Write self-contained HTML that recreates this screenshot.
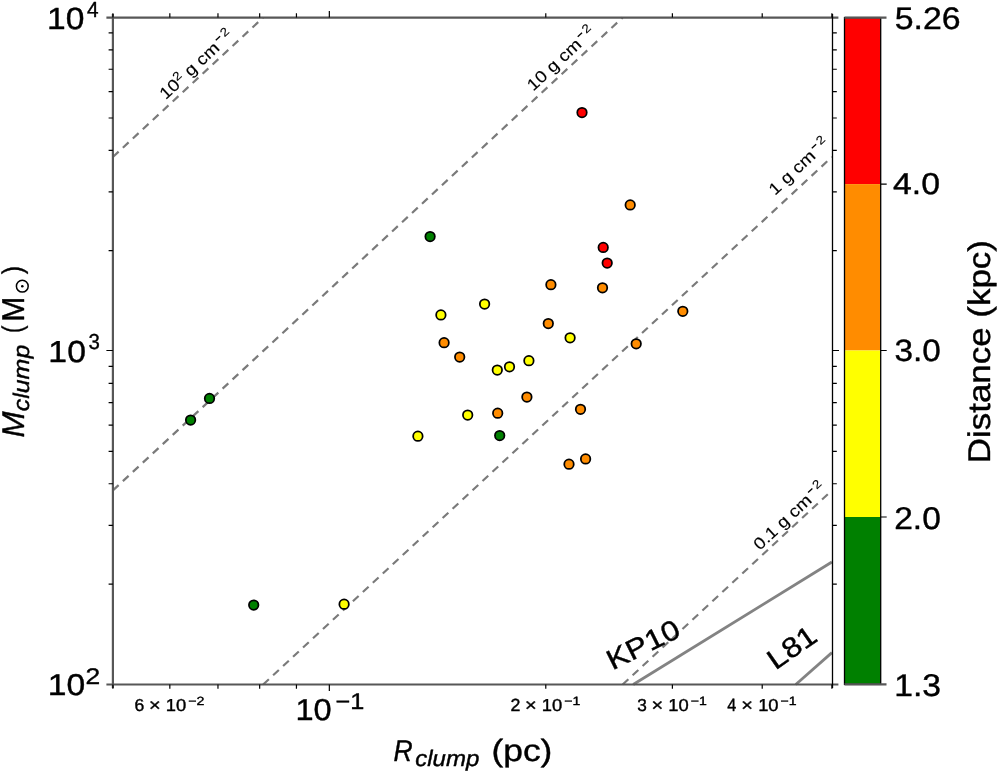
<!DOCTYPE html>
<html><head><meta charset="utf-8"><style>
html,body{margin:0;padding:0;background:#fff;overflow:hidden;}
svg{display:block;will-change:transform;}
text{font-family:"Liberation Sans",sans-serif;text-rendering:geometricPrecision;stroke:#000;stroke-width:0.4px;stroke-linejoin:round;}
.s text{stroke-width:0.12px;}
</style></head><body>
<svg width="997" height="773" viewBox="0 0 997 773">
<rect width="997" height="773" fill="#fff"/>
<g fill="none" stroke-linecap="butt">
<line x1="112.90" y1="156.96" x2="263.15" y2="17.60" stroke="#7a7a7a" stroke-width="2.2" stroke-dasharray="7.8 5.8"/>
<line x1="112.90" y1="490.41" x2="622.65" y2="17.60" stroke="#7a7a7a" stroke-width="2.2" stroke-dasharray="7.8 5.8"/>
<line x1="263.15" y1="684.50" x2="831.90" y2="156.96" stroke="#7a7a7a" stroke-width="2.2" stroke-dasharray="7.8 5.8"/>
<line x1="622.65" y1="684.50" x2="831.90" y2="490.41" stroke="#7a7a7a" stroke-width="2.2" stroke-dasharray="7.8 5.8"/>
<line x1="633.21" y1="684.50" x2="831.90" y2="561.95" stroke="#838383" stroke-width="2.8"/>
<line x1="795.76" y1="684.50" x2="831.90" y2="652.66" stroke="#838383" stroke-width="2.8"/>
</g>
<g stroke="#000" stroke-width="1.75">
<circle cx="582" cy="112.6" r="4.75" fill="#ff0000"/>
<circle cx="630.2" cy="204.9" r="4.75" fill="#ff8c00"/>
<circle cx="430.1" cy="236.5" r="4.75" fill="#008000"/>
<circle cx="603.2" cy="247.4" r="4.75" fill="#ff0000"/>
<circle cx="607.2" cy="263.1" r="4.75" fill="#ff0000"/>
<circle cx="550.9" cy="284.7" r="4.75" fill="#ff8c00"/>
<circle cx="602.5" cy="287.8" r="4.75" fill="#ff8c00"/>
<circle cx="484.6" cy="304" r="4.75" fill="#ffff00"/>
<circle cx="682.8" cy="311.3" r="4.75" fill="#ff8c00"/>
<circle cx="440.9" cy="314.9" r="4.75" fill="#ffff00"/>
<circle cx="548.3" cy="323.6" r="4.75" fill="#ff8c00"/>
<circle cx="570.1" cy="337.8" r="4.75" fill="#ffff00"/>
<circle cx="444.1" cy="342.7" r="4.75" fill="#ff8c00"/>
<circle cx="636.2" cy="343.8" r="4.75" fill="#ff8c00"/>
<circle cx="459.7" cy="357.1" r="4.75" fill="#ff8c00"/>
<circle cx="528.9" cy="360.7" r="4.75" fill="#ffff00"/>
<circle cx="497.3" cy="370" r="4.75" fill="#ffff00"/>
<circle cx="509.5" cy="366.8" r="4.75" fill="#ffff00"/>
<circle cx="526.9" cy="397.1" r="4.75" fill="#ff8c00"/>
<circle cx="209.5" cy="398.4" r="4.75" fill="#008000"/>
<circle cx="580.5" cy="409.3" r="4.75" fill="#ff8c00"/>
<circle cx="497.7" cy="413.2" r="4.75" fill="#ff8c00"/>
<circle cx="467.7" cy="415" r="4.75" fill="#ffff00"/>
<circle cx="190.6" cy="420.1" r="4.75" fill="#008000"/>
<circle cx="499.7" cy="435.5" r="4.75" fill="#008000"/>
<circle cx="417.9" cy="436.2" r="4.75" fill="#ffff00"/>
<circle cx="585.6" cy="458.9" r="4.75" fill="#ff8c00"/>
<circle cx="569" cy="464.2" r="4.75" fill="#ff8c00"/>
<circle cx="253.7" cy="605" r="4.75" fill="#008000"/>
<circle cx="344.1" cy="604.2" r="4.75" fill="#ffff00"/>
</g>
<g stroke="#575757" stroke-width="2.2">
<line x1="106.40" y1="17.6" x2="838.40" y2="17.6"/>
<line x1="106.40" y1="684.5" x2="838.40" y2="684.5"/>
<line x1="112.9" y1="14.10" x2="112.9" y2="688.00"/>
</g>
<line x1="832.50" y1="14.10" x2="832.50" y2="688.00" stroke="#000" stroke-width="1.3"/>
<path d="M112.90 684.50v4.3M112.90 17.60v-4.3M169.83 684.50v4.3M169.83 17.60v-4.3M217.97 684.50v4.3M217.97 17.60v-4.3M259.66 684.50v4.3M259.66 17.60v-4.3M296.44 684.50v4.3M296.44 17.60v-4.3M329.34 684.50v6.5M329.34 17.60v-6.5M545.78 684.50v4.3M545.78 17.60v-4.3M672.39 684.50v4.3M672.39 17.60v-4.3M762.22 684.50v4.3M762.22 17.60v-4.3M831.90 684.50v4.3M831.90 17.60v-4.3M112.90 584.12h-4.3M832.50 584.12h4.3M112.90 525.40h-4.3M832.50 525.40h4.3M112.90 483.74h-4.3M832.50 483.74h4.3M112.90 451.43h-4.3M832.50 451.43h4.3M112.90 425.03h-4.3M832.50 425.03h4.3M112.90 402.70h-4.3M832.50 402.70h4.3M112.90 383.36h-4.3M832.50 383.36h4.3M112.90 366.31h-4.3M832.50 366.31h4.3M112.90 350.50h-4.3M832.50 350.50h4.3M112.90 350.50h-6.5M832.50 350.50h6.5M112.90 250.67h-4.3M832.50 250.67h4.3M112.90 191.95h-4.3M832.50 191.95h4.3M112.90 150.29h-4.3M832.50 150.29h4.3M112.90 117.98h-4.3M832.50 117.98h4.3M112.90 91.58h-4.3M832.50 91.58h4.3M112.90 69.25h-4.3M832.50 69.25h4.3M112.90 49.91h-4.3M832.50 49.91h4.3M112.90 32.86h-4.3M832.50 32.86h4.3" stroke="#000" stroke-width="1.2" fill="none"/>
<rect x="844.5" y="17.6" width="36.20" height="166.50" fill="#ff0000"/>
<rect x="844.5" y="184.1" width="36.20" height="166.40" fill="#ff8c00"/>
<rect x="844.5" y="350.5" width="36.20" height="166.50" fill="#ffff00"/>
<rect x="844.5" y="517.0" width="36.20" height="167.40" fill="#008000"/>
<rect x="844.5" y="17.6" width="36.20" height="666.80" fill="none" stroke="#000" stroke-width="1.3"/>
<g stroke="#575757" stroke-width="2.2"><line x1="844.5" y1="17.6" x2="886.5" y2="17.6"/><line x1="844.5" y1="684.4" x2="886.5" y2="684.4"/></g>
<path d="M880.7 184.1h6M880.7 350.5h6M880.7 517h6" stroke="#000" stroke-width="1.2"/>
<g transform="translate(165.70,100.30) rotate(-42.90)" fill="#000" class="s"><text transform="translate(0.00,0) scale(1.140,1)" font-size="16.60">10</text><text transform="translate(21.05,-6.1) scale(1.140,1)" font-size="12.00">2</text><text transform="translate(28.65,0) scale(1.140,1)" font-size="16.60"> g cm</text><rect x="77.62" y="-10.60" width="5.9" height="1.3"/><text transform="translate(85.77,-6.1) scale(1.140,1)" font-size="12.00">2</text></g>
<g transform="translate(533.20,91.70) rotate(-42.90)" fill="#000" class="s"><text transform="translate(0.00,0) scale(1.140,1)" font-size="16.60">10 g cm</text><rect x="70.01" y="-10.60" width="5.9" height="1.3"/><text transform="translate(78.16,-6.1) scale(1.140,1)" font-size="12.00">2</text></g>
<g transform="translate(775.00,196.00) rotate(-42.90)" fill="#000" class="s"><text transform="translate(0.00,0) scale(1.140,1)" font-size="16.60">1 g cm</text><rect x="59.49" y="-10.60" width="5.9" height="1.3"/><text transform="translate(67.64,-6.1) scale(1.140,1)" font-size="12.00">2</text></g>
<g transform="translate(759.70,551.00) rotate(-42.90)" fill="#000" class="s"><text transform="translate(0.00,0) scale(1.140,1)" font-size="16.60">0.1 g cm</text><rect x="75.27" y="-10.60" width="5.9" height="1.3"/><text transform="translate(83.42,-6.1) scale(1.140,1)" font-size="12.00">2</text></g>
<text transform="translate(612.5,670.5) rotate(-26.5) scale(1.13,1)" font-size="28.2">KP10</text>
<text transform="translate(775.5,670.5) rotate(-35) scale(1.13,1)" font-size="28.2">L81</text>
<text transform="translate(47.08,28.99) scale(1.0933,1)" font-size="30.70" fill="#000">10</text>
<text transform="translate(86.88,16.60) scale(0.9505,1)" font-size="21.88" fill="#000">4</text>
<text transform="translate(48.37,361.60) scale(1.1100,1)" font-size="30.42" fill="#000">10</text>
<text transform="translate(88.58,349.48) scale(0.9417,1)" font-size="21.69" fill="#000">3</text>
<text transform="translate(47.77,695.20) scale(1.1223,1)" font-size="30.00" fill="#000">10</text>
<text transform="translate(85.48,683.70) scale(1.1685,1)" font-size="22.57" fill="#000">2</text>
<text transform="translate(295.46,719.70) scale(1.0753,1)" font-size="30.28" fill="#000">10</text>
<text transform="translate(335.54,708.50) scale(1.1174,1)" font-size="22.61" fill="#000">−1</text>
<text transform="translate(134.45,710.83) scale(1.0164,1)" font-size="17.32" fill="#000">6</text>
<text transform="translate(148.93,711.35) scale(1.1266,1)" font-size="17.75" fill="#000">×</text>
<text transform="translate(165.75,710.83) scale(1.0616,1)" font-size="17.32" fill="#000">10</text>
<text transform="translate(188.22,704.60) scale(1.1921,1)" font-size="11.86" fill="#000">−2</text>
<text transform="translate(510.39,711.00) scale(1.0131,1)" font-size="17.57" fill="#000">2</text>
<text transform="translate(524.88,711.35) scale(1.1266,1)" font-size="17.75" fill="#000">×</text>
<text transform="translate(541.70,710.83) scale(1.0616,1)" font-size="17.32" fill="#000">10</text>
<text transform="translate(564.18,704.60) scale(1.1694,1)" font-size="12.03" fill="#000">−1</text>
<text transform="translate(637.20,710.83) scale(0.9948,1)" font-size="17.32" fill="#000">3</text>
<text transform="translate(651.49,711.35) scale(1.1266,1)" font-size="17.75" fill="#000">×</text>
<text transform="translate(668.31,710.83) scale(1.0616,1)" font-size="17.32" fill="#000">10</text>
<text transform="translate(690.79,704.60) scale(1.1694,1)" font-size="12.03" fill="#000">−1</text>
<text transform="translate(727.32,711.00) scale(0.9088,1)" font-size="17.83" fill="#000">4</text>
<text transform="translate(741.32,711.35) scale(1.1266,1)" font-size="17.75" fill="#000">×</text>
<text transform="translate(758.14,710.83) scale(1.0616,1)" font-size="17.32" fill="#000">10</text>
<text transform="translate(780.62,704.60) scale(1.1694,1)" font-size="12.03" fill="#000">−1</text>
<text transform="translate(894.75,28.99) scale(1.0882,1)" font-size="31.13" fill="#000">5.26</text>
<text transform="translate(893.05,194.30) scale(1.1166,1)" font-size="30.28" fill="#000">4.0</text>
<text transform="translate(894.57,361.49) scale(1.0790,1)" font-size="30.85" fill="#000">3.0</text>
<text transform="translate(894.22,529.09) scale(1.0678,1)" font-size="31.41" fill="#000">2.0</text>
<text transform="translate(894.28,695.69) scale(1.0705,1)" font-size="31.41" fill="#000">1.3</text>
<text transform="translate(393.50,761.00) scale(0.8838,1)" font-size="30.00" font-style="italic" fill="#000">R</text>
<text transform="translate(415.18,765.58) scale(1.0699,1)" font-size="22.46" font-style="italic" fill="#000">clump</text>
<text transform="translate(491.48,760.53) scale(1.1485,1)" font-size="30.80" fill="#000">(pc)</text>
<text transform="translate(0,440) rotate(-90) translate(2.56,23.60) scale(0.9914,1)" font-size="31.45" font-style="italic" fill="#000">M</text>
<text transform="translate(0,440) rotate(-90) translate(28.65,29.16) scale(1.1074,1)" font-size="22.57" font-style="italic" fill="#000">clump</text>
<text transform="translate(0,440) rotate(-90) translate(107.06,22.23) scale(0.7826,1)" font-size="28.45" fill="#000">(</text>
<text transform="translate(0,440) rotate(-90) translate(118.30,23.60) scale(0.9495,1)" font-size="31.59" fill="#000">M</text>
<text transform="translate(0,440) rotate(-90) translate(165.85,22.23) scale(0.8788,1)" font-size="28.45" fill="#000">)</text>
<text transform="translate(0,470) rotate(-90) translate(6.81,989.52) scale(1.1146,1)" font-size="31.34" fill="#000">Distance (kpc)</text>
<circle cx="22.3" cy="286.2" r="5.9" fill="none" stroke="#000" stroke-width="1.5"/><circle cx="22.3" cy="286.2" r="1.3" fill="#000"/>
</svg></body></html>
